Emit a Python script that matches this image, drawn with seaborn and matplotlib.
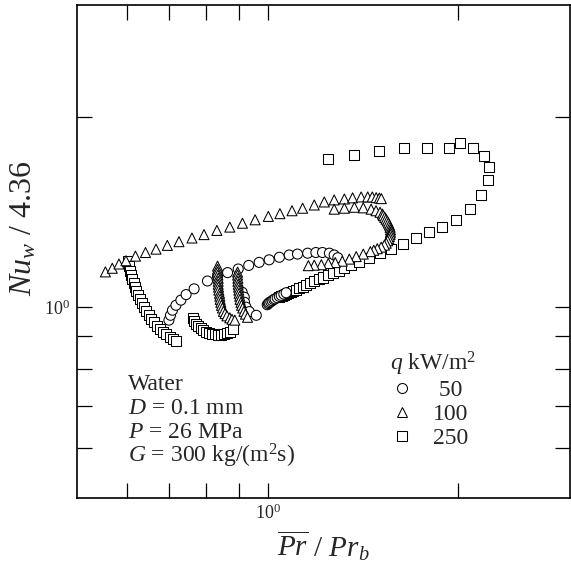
import matplotlib
matplotlib.use("Agg")
import matplotlib.pyplot as plt
import pandas as pd
import seaborn as sns
from matplotlib.lines import Line2D
from matplotlib.ticker import FixedLocator, LogFormatterSciNotation, NullFormatter

sns.set_style("ticks")
plt.rcParams["font.family"] = ["Liberation Serif", "DejaVu Serif"]
plt.rcParams["mathtext.fontset"] = "custom"
plt.rcParams["mathtext.rm"] = "Liberation Serif"
plt.rcParams["mathtext.it"] = "Liberation Serif:italic"
plt.rcParams["mathtext.bf"] = "Liberation Serif:bold"

# ---- q = 50 kW/m2 (circles): Pr_avg/Pr_b and Nu_w/4.36 ----
pr_q50 = [0.699, 0.703, 0.708, 0.717, 0.730, 0.744, 0.766, 0.804, 0.834, 0.865,
          0.899, 0.934, 0.970, 1.006, 1.044, 1.082, 1.115, 1.157, 1.192, 1.221,
          1.252, 1.274, 1.291,
          0.912, 0.919, 0.920, 0.925, 0.936, 0.960,
          0.999, 1.003, 1.006, 1.012, 1.017, 1.023, 1.028, 1.036, 1.044, 1.051,
          1.061, 1.070]
nu_q50 = [0.955, 0.972, 0.990, 1.008, 1.027, 1.048, 1.070, 1.101, 1.119, 1.135,
          1.150, 1.165, 1.178, 1.189, 1.200, 1.210, 1.214, 1.218, 1.221, 1.221,
          1.218, 1.210, 1.198,
          1.057, 1.038, 1.019, 1.001, 0.985, 0.972,
          1.010, 1.014, 1.018, 1.021, 1.025, 1.029, 1.032, 1.036, 1.041, 1.045,
          1.050, 1.055]

# ---- q = 100 kW/m2 (triangles) ----
pr_q100 = [0.555, 0.569, 0.583, 0.598, 0.619, 0.642, 0.667, 0.695, 0.725, 0.760,
           0.794, 0.832, 0.872, 0.913, 0.956, 1.003, 1.046, 1.093, 1.136, 1.185,
           1.229, 1.274, 1.322, 1.362, 1.405, 1.439, 1.463, 1.484, 1.501, 1.512,
           1.274, 1.322, 1.371, 1.416, 1.457, 1.483, 1.505, 1.518, 1.523, 1.531,
           1.538, 1.545, 1.551, 1.557, 1.561, 1.563, 1.563, 1.561, 1.557, 1.553,
           1.547, 1.539, 1.529, 1.511, 1.490, 1.471, 1.453, 1.416, 1.380, 1.346,
           1.312, 1.279, 1.247, 1.216, 1.185, 1.160,
           0.834, 0.834, 0.834, 0.835, 0.836, 0.836, 0.836, 0.837, 0.838, 0.840,
           0.841, 0.842, 0.844, 0.846, 0.849, 0.852, 0.857, 0.863, 0.872, 0.879,
           0.888,
           0.897, 0.897, 0.898, 0.898, 0.899, 0.900, 0.901, 0.902, 0.904, 0.905,
           0.908, 0.910, 0.914, 0.918, 0.923, 0.930]
nu_q100 = [1.138, 1.153, 1.171, 1.185, 1.205, 1.221, 1.236, 1.253, 1.270, 1.287,
           1.303, 1.323, 1.339, 1.358, 1.375, 1.392, 1.406, 1.421, 1.434, 1.451,
           1.467, 1.478, 1.483, 1.489, 1.494, 1.494, 1.494, 1.490, 1.488, 1.485,
           1.429, 1.434, 1.439, 1.436, 1.429, 1.421, 1.413, 1.404, 1.396, 1.387,
           1.378, 1.369, 1.359, 1.349, 1.338, 1.326, 1.314, 1.304, 1.294, 1.284,
           1.274, 1.263, 1.254, 1.245, 1.238, 1.231, 1.225, 1.214, 1.203, 1.192,
           1.183, 1.177, 1.173, 1.168, 1.166, 1.164,
           1.162, 1.149, 1.137, 1.125, 1.112, 1.100, 1.088, 1.077, 1.065, 1.053,
           1.042, 1.030, 1.019, 1.008, 0.998, 0.986, 0.978, 0.970, 0.963, 0.958,
           0.955,
           1.137, 1.125, 1.112, 1.100, 1.088, 1.077, 1.065, 1.053, 1.042, 1.030,
           1.019, 1.008, 0.998, 0.986, 0.976, 0.965]

# ---- q = 250 kW/m2 (squares) ----
pr_q250 = [0.602, 0.605, 0.607, 0.609, 0.611, 0.615, 0.618, 0.621, 0.625, 0.629,
           0.634, 0.638, 0.644, 0.650, 0.656, 0.662, 0.669, 0.677, 0.684, 0.691,
           0.701, 0.709, 0.718,
           0.763, 0.767, 0.771, 0.777, 0.784, 0.791, 0.800, 0.809, 0.818, 0.827,
           0.836, 0.845, 0.854, 0.863, 0.873, 0.883,
           1.044, 1.049, 1.055, 1.062, 1.070, 1.078, 1.088, 1.098, 1.110, 1.122,
           1.136, 1.151, 1.168, 1.185, 1.205, 1.224, 1.247, 1.270, 1.296, 1.322,
           1.356, 1.396, 1.448, 1.507, 1.568, 1.638, 1.717, 1.801, 1.888, 1.982,
           2.083, 2.172, 2.228, 2.234, 2.194, 2.113, 2.009, 1.930, 1.787, 1.644,
           1.501, 1.368, 1.245]
nu_q250 = [1.183, 1.162, 1.141, 1.125, 1.108, 1.092, 1.077, 1.061, 1.046, 1.030,
           1.016, 1.001, 0.986, 0.972, 0.960, 0.948, 0.936, 0.925, 0.916, 0.907,
           0.899, 0.892, 0.886,
           0.961, 0.951, 0.943, 0.934, 0.927, 0.920, 0.916, 0.912, 0.909, 0.907,
           0.906, 0.906, 0.907, 0.911, 0.916, 0.924,
           1.038, 1.041, 1.044, 1.047, 1.050, 1.054, 1.058, 1.062, 1.067, 1.072,
           1.079, 1.085, 1.092, 1.099, 1.107, 1.115, 1.125, 1.134, 1.143, 1.153,
           1.166, 1.179, 1.198, 1.218, 1.238, 1.261, 1.285, 1.314, 1.339, 1.373,
           1.432, 1.502, 1.589, 1.666, 1.734, 1.784, 1.815, 1.784, 1.787, 1.782,
           1.765, 1.740, 1.715]

heat_flux = ["50", "100", "250"]
marker_for = {"50": "o", "100": "^", "250": "s"}
major_ticks = [1.0]
minor_ticks = [0.6, 0.7, 0.8, 0.9, 2.0]

df = pd.concat(
    [
        pd.DataFrame({"ratio": pr_q250, "nu": nu_q250, "q": "250"}),
        pd.DataFrame({"ratio": pr_q50, "nu": nu_q50, "q": "50"}),
        pd.DataFrame({"ratio": pr_q100, "nu": nu_q100, "q": "100"}),
    ],
    ignore_index=True,
)

fig = plt.figure(figsize=(5.71, 5.63), dpi=100)
ax = fig.add_axes([0.1343, 0.1149, 0.8639, 0.8762])

sns.scatterplot(
    data=df, x="ratio", y="nu", style="q", markers=marker_for,
    color="white", edgecolor="black", linewidth=0.75, s=52,
    legend=False, ax=ax, zorder=3,
)

ax.set_xscale("log")
ax.set_yscale("log")
ax.set_xlim(0.5, 3.0)
ax.set_ylim(0.5, 3.0)

for axis in (ax.xaxis, ax.yaxis):
    axis.set_major_locator(FixedLocator(major_ticks))
    axis.set_minor_locator(FixedLocator(minor_ticks))
    axis.set_major_formatter(LogFormatterSciNotation())
    axis.set_minor_formatter(NullFormatter())

ax.tick_params(which="both", direction="in", top=True, right=True,
               length=10.8, width=0.9, labelsize=13, color="black")
ax.tick_params(axis="x", which="both", pad=4)
ax.tick_params(axis="y", which="both", pad=5)
for sp in ax.spines.values():
    sp.set_linewidth(1.2)
    sp.set_color("black")

ax.set_xlabel(r"$\overline{Pr}$ / $Pr_b$", fontsize=21, va="top")
ax.set_ylabel(r"$Nu_w$ / 4.36", fontsize=23, va="top")
ax.xaxis.set_label_coords(0.5, -0.061)
ax.yaxis.set_label_coords(-0.138, 0.548)

# Test conditions
cond = ["Water", r"$D$ = 0.1 mm", r"$P$ = 26 MPa", r"$G$ = 300 kg/(m$^2$s)"]
for txt, yy in zip(cond, [0.219, 0.170, 0.122, 0.073]):
    ax.text(0.104, yy, txt, transform=ax.transAxes, fontsize=17,
            ha="left", va="baseline")

handles = [
    Line2D([], [], linestyle="none", marker=marker_for[q], markersize=7.2,
           markerfacecolor="white", markeredgecolor="black", markeredgewidth=0.75)
    for q in heat_flux
]
labels = [" 50", "100", "250"]
leg = ax.legend(handles, labels, title=r"$q$ kW/m$^2$", loc="upper left",
                bbox_to_anchor=(0.635, 0.302), frameon=False, fontsize=17,
                title_fontsize=17, alignment="left", handlelength=1.0,
                handletextpad=0.82, labelspacing=0.1, borderpad=0,
                borderaxespad=0)

fig.savefig("out.png", dpi=100)
